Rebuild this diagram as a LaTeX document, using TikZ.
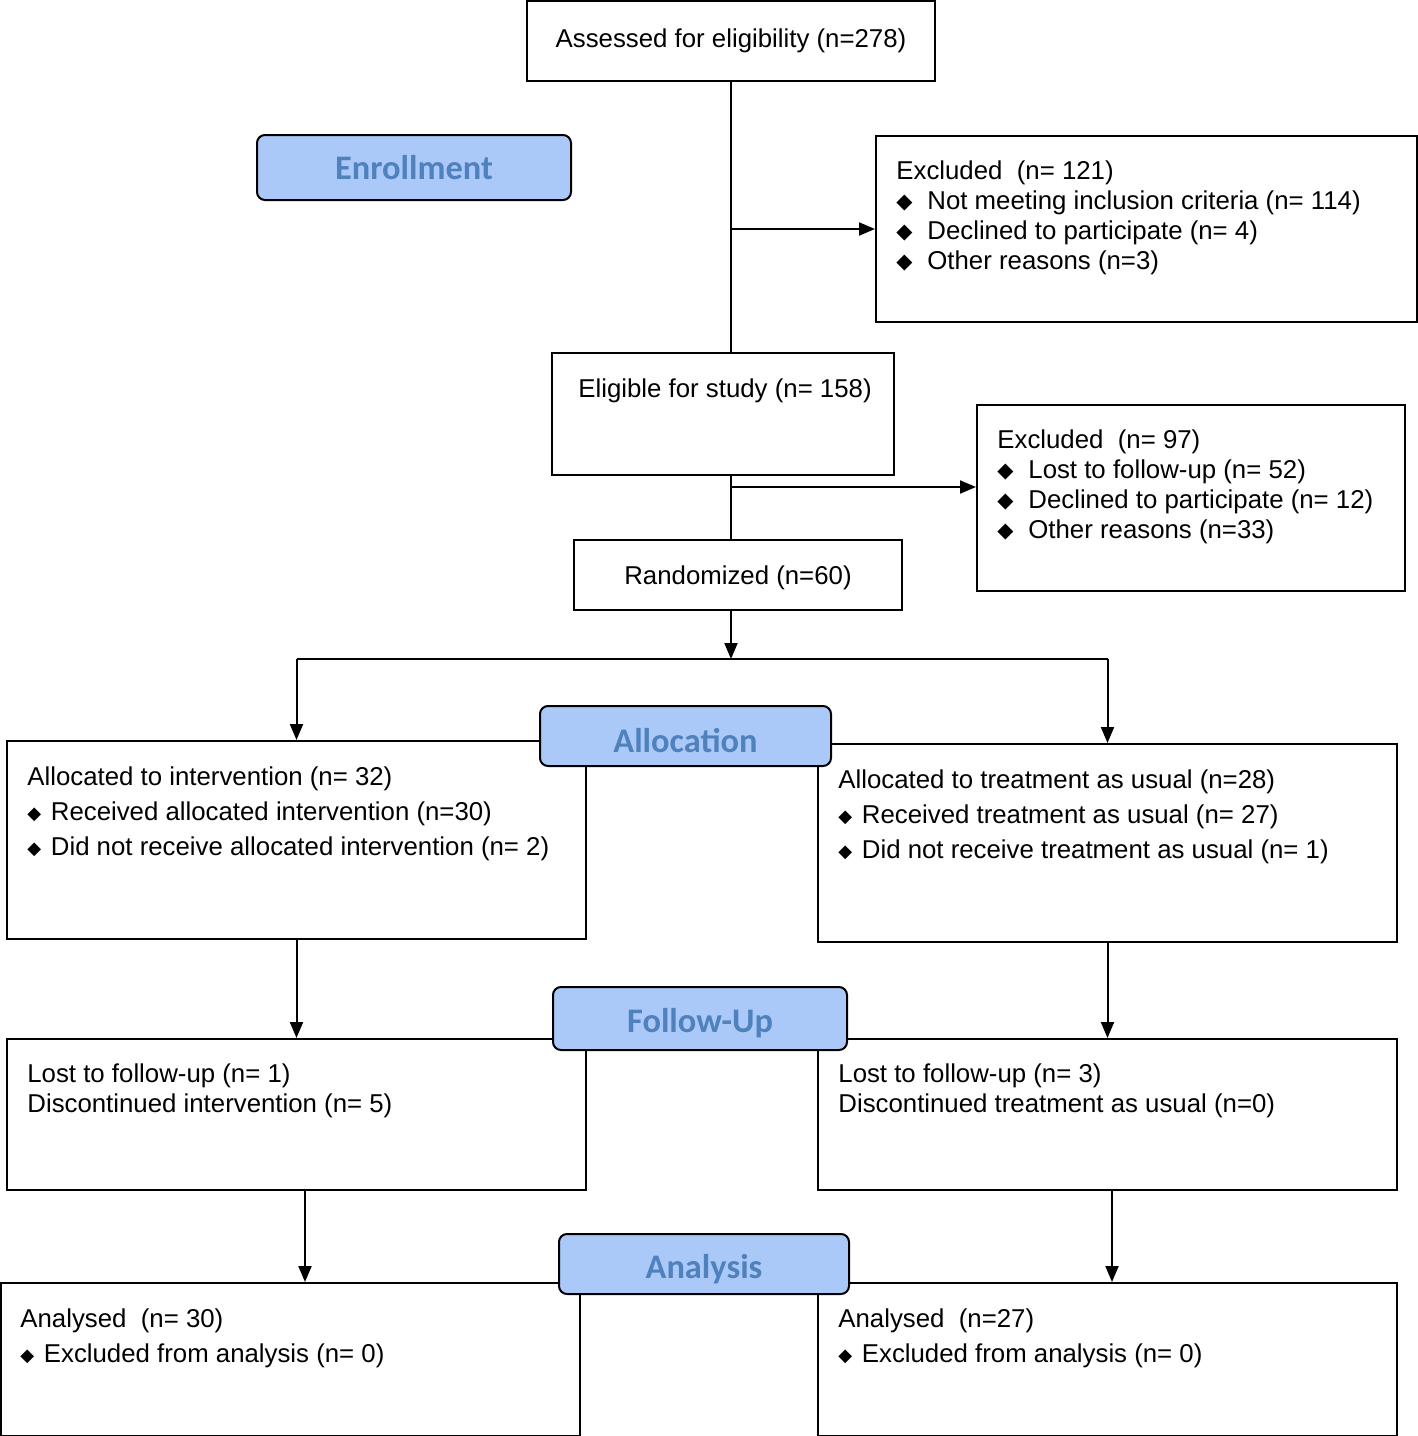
\documentclass[tikz,border=0pt]{standalone}
\usepackage{fontspec}
\setmainfont{Liberation Sans}
\newfontfamily\labelfont{Carlito}
\newfontfamily\symfont{DejaVu Sans}
\usepackage{xcolor}
\usetikzlibrary{arrows.meta, fit}

\definecolor{stagefill}{RGB}{171,201,248}
\definecolor{stagetext}{RGB}{79,129,189}
\newcommand{\bigdia}{\makebox[15.5pt][l]{\raisebox{0.3pt}{\symfont\fontsize{10.5}{10.5}\selectfont ◆}}}
\newcommand{\smalldia}{\makebox[11.75pt][l]{\raisebox{0.3pt}{\symfont\fontsize{9}{9}\selectfont ◆}}}

\begin{document}
\begin{tikzpicture}[x=0.5pt, y=-0.5pt,
  frame/.style = {draw, line width=1pt, inner sep=0pt},
  txt/.style = {anchor=north west, inner sep=0pt, align=left, font=\fontsize{12.9}{15}\selectfont},
  wide/.style = {txt, font=\fontsize{12.9}{17.5}\selectfont},
  stage/.style = {draw, line width=1pt, rounded corners=4pt, inner sep=0pt, fill=stagefill},
  stagelbl/.style = {text=stagetext, yshift=-2.5pt, font=\labelfont\bfseries\fontsize{17.2}{17.2}\selectfont},
  arr/.style = {line width=1pt, -{Triangle[length=8pt, width=6.5pt]}}]
\useasboundingbox (0,0) rectangle (1418,1436);

% boxes
\node[frame, fit={(527,1) (935,81)}, label={[font=\fontsize{12.9}{15}\selectfont]center:Assessed for eligibility (n=278)}] (assess) {};
\node[frame, fit={(876,136) (1417,322)}] (excl1) {};
\node[frame, fit={(552,353) (894,475)}] (elig) {};
\node[frame, fit={(977,405) (1405,591)}] (excl2) {};
\node[frame, fit={(574,540) (902,610)}, label={[font=\fontsize{12.9}{15}\selectfont, yshift=-1.5pt]center:Randomized (n=60)}] (rand) {};
\node[frame, fit={(7,741) (586,939)}] (allocL) {};
\node[frame, fit={(818,744) (1397,942)}] (allocR) {};
\node[frame, fit={(7,1039) (586,1190)}] (fuL) {};
\node[frame, fit={(818,1039) (1397,1190)}] (fuR) {};
\node[frame, fit={(1,1283) (580,1436)}] (anL) {};
\node[frame, fit={(818,1283) (1397,1436)}] (anR) {};

% texts
\node[txt] (excl1txt) at (896,160) {Excluded~ (n= 121)\\
  \bigdia Not meeting inclusion criteria (n= 114)\\
  \bigdia Declined to participate (n= 4)\\
  \bigdia Other reasons (n=3)};
\node[txt] (eligtxt) at (578,378) {Eligible for study (n= 158)};
\node[txt] (excl2txt) at (997,429) {Excluded~ (n= 97)\\
  \bigdia Lost to follow-up (n= 52)\\
  \bigdia Declined to participate (n= 12)\\
  \bigdia Other reasons (n=33)};
\node[wide] (allocLtxt) at (27,766) {Allocated to intervention (n= 32)\\
  \smalldia Received allocated intervention (n=30)\\
  \smalldia Did not receive allocated intervention (n= 2)};
\node[wide] (allocRtxt) at (838,769) {Allocated to treatment as usual (n=28)\\
  \smalldia Received treatment as usual (n= 27)\\
  \smalldia Did not receive treatment as usual (n= 1)};
\node[txt] (fuLtxt) at (27,1063) {Lost to follow-up (n= 1)\\Discontinued intervention (n= 5)};
\node[txt] (fuRtxt) at (838,1063) {Lost to follow-up (n= 3)\\Discontinued treatment as usual (n=0)};
\node[wide] (anLtxt) at (20,1308) {Analysed~ (n= 30)\\
  \smalldia Excluded from analysis (n= 0)};
\node[wide] (anRtxt) at (838,1308) {Analysed~ (n=27)\\
  \smalldia Excluded from analysis (n= 0)};

% stage labels
\node[stage, fit={(257,135) (571,200)}, label={[stagelbl, yshift=2.5pt]center:Enrollment}] (enroll) {};
\node[stage, fit={(540,706) (831,766)}, label={[stagelbl]center:Allocation}] (alloc) {};
\node[stage, fit={(553,987) (847,1050)}, label={[stagelbl]center:Follow-Up}] (follow) {};
\node[stage, fit={(559,1234) (849,1294)}, label={[stagelbl]center:Analysis}] (analysis) {};

% connectors
\coordinate (split) at (731,487);
\coordinate (branch) at (731,659);
\coordinate (dL) at (305,0);
\coordinate (dR) at (1112,0);
\draw[line width=1pt] (assess.south) -- (assess.south |- elig.north);
\draw[arr] (assess.south |- excl1.west) -- (excl1.west);
\draw[line width=1pt] (assess.south |- elig.south) -- (assess.south |- rand.north);
\draw[arr] (split) -- (split -| excl2.west);
\draw[arr] (assess.south |- rand.south) -- (branch);
\draw[line width=1pt] (branch -| allocL.north) -- (branch -| allocR.north);
\draw[arr] (branch -| allocL.north) -- (allocL.north);
\draw[arr] (branch -| allocR.north) -- (allocR.north);
\draw[arr] (allocL.south) -- (fuL.north);
\draw[arr] (allocR.south) -- (allocR.south |- fuR.north);
\draw[arr] (dL |- fuL.south) -- (dL |- anL.north);
\draw[arr] (dR |- fuR.south) -- (dR |- anR.north);
\end{tikzpicture}
\end{document}
